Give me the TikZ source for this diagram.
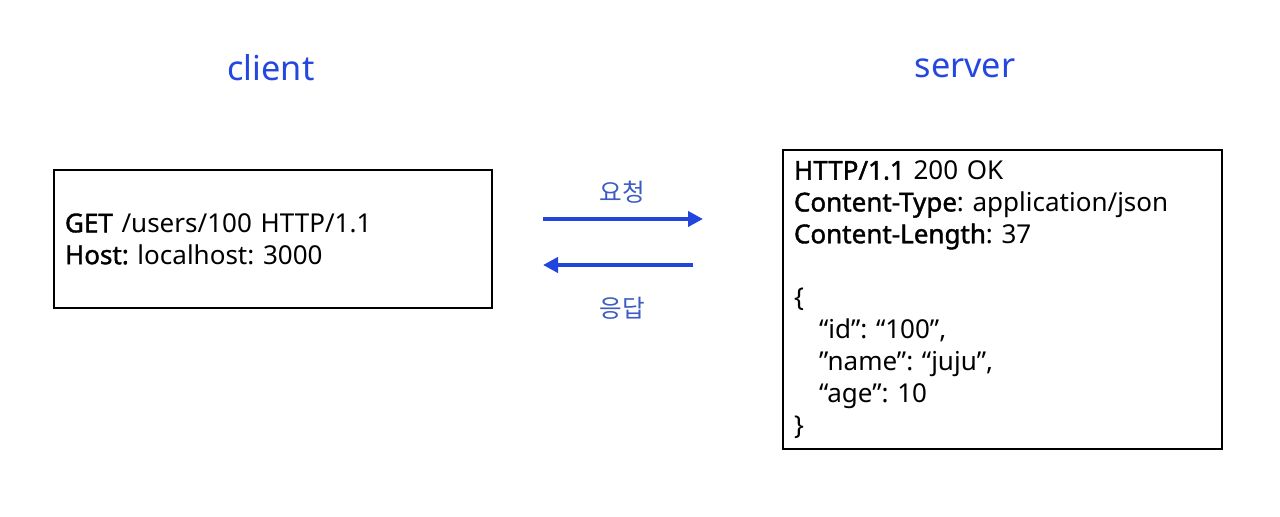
\documentclass[tikz,border=0pt]{standalone}
\usepackage{fontspec}
\setmainfont{Noto Sans}
\newfontfamily\kr{Noto Sans CJK KR}
\newfontfamily\semibf[FakeBold=1.5]{Noto Sans}
\usetikzlibrary{positioning,arrows.meta}

\definecolor{titleblue}{HTML}{2447E0}
\definecolor{flowblue}{HTML}{2246DC}
\definecolor{labelblue}{HTML}{3C5CC2}

\newcommand{\hd}[1]{{\semibf #1}}
\frenchspacing

\tikzset{
  msgbox/.style={draw,line width=0.9pt,align=left,inner sep=0.22cm,
    font=\fontsize{14.8}{18.1}\selectfont},
  side/.style={text=titleblue,font=\fontsize{19.5}{24}\selectfont},
  flow/.style={flowblue,line width=2.3pt,-{Triangle[length=0.3cm,width=0.3cm]}},
  flowlabel/.style={text=labelblue,font=\kr\fontsize{14}{16}\selectfont}
}

\begin{document}
\begin{tikzpicture}
\useasboundingbox (0,0) rectangle (25.6,10.34);
% Titles
\node[side] (cl) at (5.42,8.98) {client};
\node[side] (sv) at (19.3,8.98) {server};
% Request message
\node[msgbox,text width=8.32cm,minimum height=2.76cm] (req) at (5.46,5.56)
  {\hd{GET} /users/100 HTTP/1.1\\
   \hd{Host:} localhost: 3000};
% Response message
\node[msgbox,text width=8.34cm,minimum height=5.98cm] (res) at (20.05,4.35)
  {\hd{HTTP/1.1} 200 OK\\
   \hd{Content-Type}: application/json\\
   \hd{Content-Length}: 37\\
   \mbox{}\\
   \{\\
   \hspace*{0.5cm}“id”: “100”,\\
   \hspace*{0.5cm}”name”: “juju”,\\
   \hspace*{0.5cm}“age”: 10\\
   \}};
% Arrows
\coordinate (reqA) at (10.86,5.96);
\coordinate (reqB) at (14.06,5.96);
\coordinate (resA) at (13.86,5.04);
\coordinate (resB) at (10.86,5.04);
\draw[flow] (reqA) -- (reqB);
\draw[flow] (resA) -- (resB);
\node[flowlabel] (ask) at (12.44,6.5) {요청};
\node[flowlabel] (ans) at (12.44,4.18) {응답};
\end{tikzpicture}
\end{document}
